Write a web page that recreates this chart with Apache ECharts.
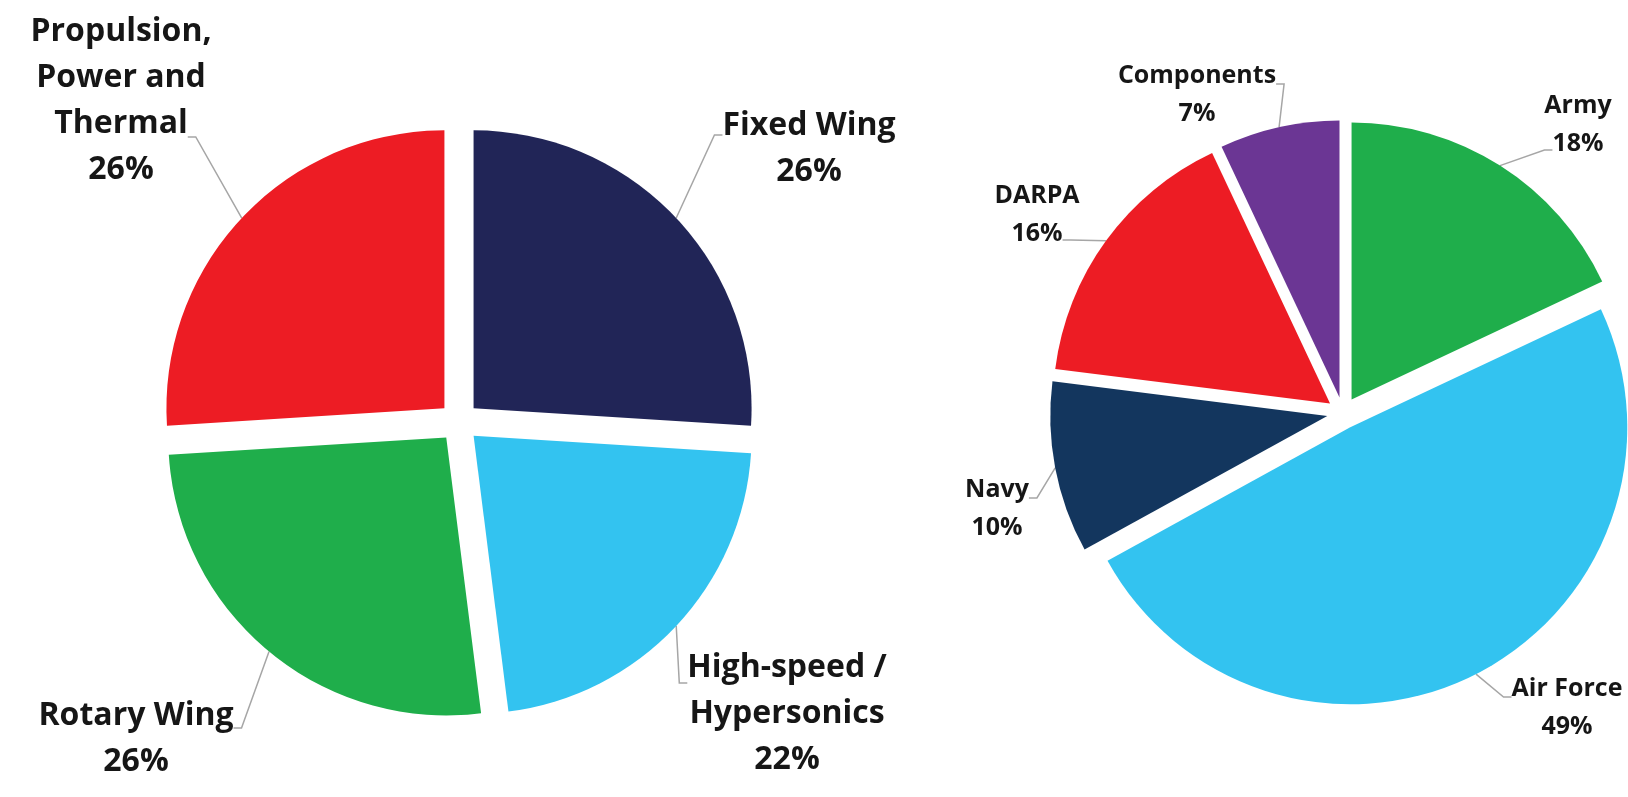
<!DOCTYPE html>
<html>
<head>
<meta charset="utf-8">
<title>Pie charts</title>
<script src="https://cdn.jsdelivr.net/npm/echarts@6/dist/echarts.min.js"></script>
<style>
html, body { margin: 0; padding: 0; background: #fff; }
#main { width: 1628px; height: 797px; }
</style>
</head>
<body>
<div id="main"></div>
<script>
// left pie: research areas
var areaNames = ['Fixed Wing', 'High-speed /\nHypersonics', 'Rotary Wing', 'Propulsion,\nPower and\nThermal'];
var areaShares = [26, 22, 26, 26];
// right pie: sponsors
var sponsorNames = ['Army', 'Air Force', 'Navy', 'DARPA', 'Components'];
var sponsorShares = [18, 49, 10, 16, 7];

var areaColors = ['#212557', '#33c3f0', '#1fae4b', '#ed1c24'];
var sponsorColors = ['#1fae4b', '#33c3f0', '#13365e', '#ed1c24', '#6b3694'];

// label blocks (centre x, top y)
var areaLabelPos = [[809, 103], [787, 645], [136, 693], [121, 9]];
var sponsorLabelPos = [[1578, 87], [1567, 670], [997, 471], [1037, 177], [1197, 57]];
// leader line: which text row it meets, and at what height
var areaLineRow = [0, 0, 0, 2];
var areaLineY = [135, 683, 728, 137];
var sponsorLineRow = [1, 0, 0, 1, 0];
var sponsorLineY = [150, 697, 498, 240, 84];

function labelText(p) {
    return p.name + '\n' + p.value + '%';
}

function buildData(names, values, colors, selected) {
    var out = [];
    for (var i = 0; i < names.length; i++) {
        out.push({
            name: names[i],
            value: values[i],
            selected: selected,
            itemStyle: { color: colors ? colors[i] : 'rgba(0,0,0,0)' }
        });
    }
    return out;
}

function piePart(center, radius, offset, names, values, colors) {
    // the coloured, exploded slices
    return {
        type: 'pie',
        center: center,
        radius: radius,
        startAngle: 90,
        clockwise: true,
        selectedMode: 'multiple',
        selectedOffset: offset,
        silent: true,
        emphasis: { disabled: true },
        select: { itemStyle: { borderWidth: 0 } },
        label: { show: false },
        labelLine: { show: false },
        data: buildData(names, values, colors, true)
    };
}

function textPart(center, radius, names, values, font, lh, posList) {
    return {
        type: 'pie',
        center: center,
        radius: radius,
        startAngle: 90,
        clockwise: true,
        silent: true,
        avoidLabelOverlap: false,
        emphasis: { disabled: true },
        label: {
            show: true,
            position: 'outside',
            formatter: labelText,
            fontFamily: 'Open Sans',
            fontWeight: 'bold',
            fontSize: font,
            lineHeight: lh,
            color: '#161616',
            align: 'center'
        },
        labelLine: { show: false },
        labelLayout: function (p) {
            var pos = posList[p.dataIndex];
            return { x: pos[0], y: pos[1], align: 'center', verticalAlign: 'top' };
        },
        data: buildData(names, values, null, false)
    };
}

function linePart(center, radius, names, values, font, posList, rows, ys) {
    // transparent copy of one text row, only there to carry the leader line
    return {
        type: 'pie',
        center: center,
        radius: radius,
        startAngle: 90,
        clockwise: true,
        silent: true,
        avoidLabelOverlap: false,
        emphasis: { disabled: true },
        label: {
            show: true,
            position: 'outside',
            formatter: function (p) {
                return labelText(p).split('\n')[rows[p.dataIndex]];
            },
            fontFamily: 'Open Sans',
            fontWeight: 'bold',
            fontSize: font,
            lineHeight: 4,
            color: 'rgba(0,0,0,0)'
        },
        labelLine: {
            show: true,
            length: 10,
            length2: 8,
            minTurnAngle: 20,
            lineStyle: { color: '#a6a6a6', width: 1.5 }
        },
        labelLayout: function (p) {
            return { x: posList[p.dataIndex][0], y: ys[p.dataIndex], align: 'center', verticalAlign: 'middle' };
        },
        data: buildData(names, values, null, false)
    };
}

initCharts();

function initCharts() {
    var myChart = echarts.init(document.getElementById('main'));
    var leftC = [459, 422], leftR = 278, leftOff = 20;
    var rightC = [1343, 413], rightR = 277, rightOff = 16;

    var option = {
        animation: false,
        backgroundColor: '#ffffff',
        series: [
            piePart(leftC, leftR, leftOff, areaNames, areaShares, areaColors),
            piePart(rightC, rightR, rightOff, sponsorNames, sponsorShares, sponsorColors),
            linePart(leftC, leftR + leftOff, areaNames, areaShares, 32, areaLabelPos, areaLineRow, areaLineY),
            linePart(rightC, rightR + rightOff, sponsorNames, sponsorShares, 25, sponsorLabelPos, sponsorLineRow, sponsorLineY),
            textPart(leftC, leftR + leftOff, areaNames, areaShares, 32, 46, areaLabelPos),
            textPart(rightC, rightR + rightOff, sponsorNames, sponsorShares, 25, 38, sponsorLabelPos)
        ]
    };

    myChart.setOption(option);
}
</script>
</body>
</html>
